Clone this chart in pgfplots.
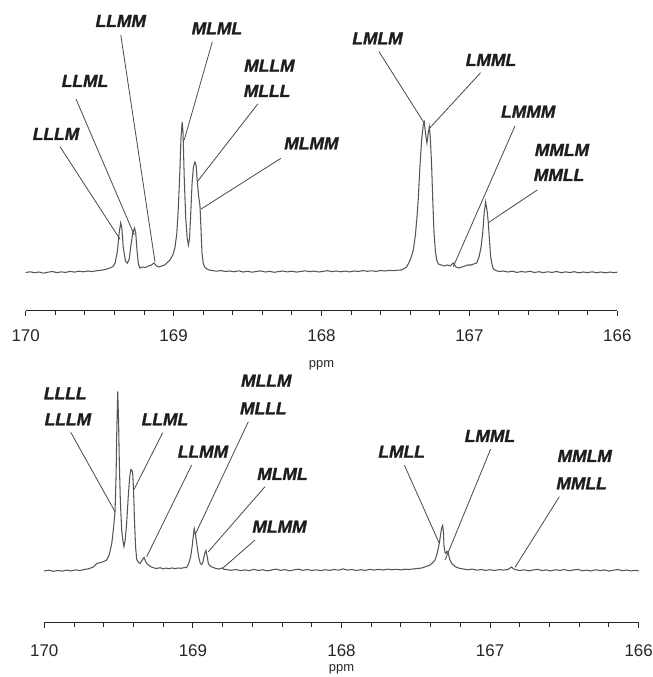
\documentclass[border=0pt]{standalone}
\usepackage{pgfplots}
\pgfplotsset{compat=1.18}
\usepackage{pgfplotstable}
\usepackage{fontspec}
\setmainfont{Liberation Sans}
\newfontfamily\lblfont{Liberation Sans}[BoldItalicFeatures={FakeBold=1.3}]
\definecolor{spec}{HTML}{555555}
\definecolor{lead}{HTML}{484848}
\definecolor{lab}{HTML}{1E1E1E}

\pgfplotstableread{
ppm h
170.00 0.5
169.97 1.2
169.94 0.3
169.91 1.0
169.88 -0.2
169.85 0.8
169.82 1.5
169.79 0.4
169.76 1.1
169.73 0.6
169.70 1.6
169.67 0.9
169.64 1.8
169.61 1.2
169.58 2.0
169.55 1.4
169.52 2.3
169.49 2.8
169.46 3.5
169.43 5.0
169.41 6.5
169.395 10
169.38 22
169.368 40
169.358 50
169.350 45
169.340 25
169.325 12
169.312 10
169.300 14
169.288 28
169.276 40
169.264 45
169.256 40
169.247 22
169.238 9
169.228 5
169.21 6
169.19 5.5
169.17 7
169.15 8
169.132 10
169.115 7
169.10 6
169.08 7
169.06 8
169.045 10
169.025 13
169.005 18
168.99 26
168.978 40
168.968 65
168.958 100
168.950 135
168.942 151
168.936 140
168.928 95
168.918 55
168.908 35
168.900 28
168.892 35
168.884 60
168.875 90
168.866 106
168.856 111
168.848 108
168.840 92
168.830 76
168.822 68
168.815 45
168.808 20
168.800 10
168.790 6
168.775 4
168.76 3
168.74 2.5
168.71 1.8
168.68 2.4
168.65 1.5
168.62 2.0
168.59 1.2
168.56 2.2
168.53 1.0
168.50 1.7
168.47 0.8
168.44 1.5
168.41 2.1
168.38 1.0
168.35 1.6
168.32 0.7
168.29 1.4
168.26 2.0
168.23 1.1
168.20 1.8
168.17 0.9
168.14 1.5
168.11 2.2
168.08 1.3
168.05 1.9
168.02 1.0
167.99 1.6
167.96 2.3
167.93 1.4
167.90 2.0
167.87 1.2
167.84 1.9
167.81 1.1
167.78 2.0
167.75 1.5
167.72 2.4
167.69 1.7
167.66 2.2
167.63 1.6
167.60 2.5
167.57 2.0
167.54 2.6
167.51 2.3
167.48 2.9
167.46 3
167.44 4.5
167.425 6
167.41 10
167.395 15
167.379 23
167.365 38
167.355 55
167.346 73
167.335 105
167.323 133
167.312 148
167.305 151
167.297 140
167.287 130
167.278 140
167.271 146
167.264 135
167.255 106
167.247 70
167.239 40
167.230 22
167.221 13
167.21 9
167.19 8
167.17 7
167.15 8
167.13 7
167.109 10
167.09 6
167.07 5
167.05 6
167.03 7
167.01 8
166.99 8
166.97 9
166.951 10
166.935 16
166.922 25
166.910 40
166.900 60
166.890 71
166.880 62
166.872 50
166.864 32
166.856 16
166.846 8
166.838 4
166.82 2.5
166.80 1.5
166.77 2.0
166.74 1.0
166.71 1.8
166.68 0.6
166.65 1.4
166.62 0.9
166.59 1.7
166.56 0.5
166.53 1.3
166.50 0.4
166.47 1.2
166.44 0.6
166.41 1.5
166.38 0.3
166.35 1.1
166.32 0.5
166.29 1.3
166.26 0.2
166.23 1.0
166.20 0.4
166.17 1.2
166.14 0.3
166.11 1.0
166.08 0.2
166.05 0.9
166.02 0.4
166.00 0.8
}\specA

\pgfplotstableread{
ppm h
170.00 0.5
169.97 1.3
169.94 0.2
169.91 1.0
169.88 0.4
169.85 1.4
169.82 0.6
169.79 1.6
169.76 1.0
169.73 2.0
169.70 2.8
169.67 4.5
169.647 8
169.62 9
169.60 10
169.580 11.5
169.565 16
169.555 22
169.546 28
169.535 42
169.524 60
169.517 95
169.512 141
169.506 180
169.500 150
169.495 108
169.488 70
169.479 41
169.470 30
169.464 25
169.455 32
169.445 50
169.435 75
169.425 95
169.417 102
169.410 101
169.405 98
169.399 80
169.394 55
169.386 25
169.378 12
169.366 9
169.356 8
169.343 11
169.329 14
169.315 9
169.300 6.5
169.28 4.5
169.26 3.5
169.244 3
169.22 3.8
169.20 2.6
169.18 3.4
169.16 2.8
169.14 3.6
169.12 2.9
169.10 3.5
169.08 3.2
169.06 3.8
169.042 4
169.028 8
169.015 15
169.005 25
168.997 36
168.991 43
168.984 38
168.974 28
168.962 15
168.950 8
168.941 7
168.933 9
168.925 15
168.918 19
168.912 21
168.905 16
168.896 8
168.880 5
168.863 4
168.845 3
168.825 2.5
168.806 3.5
168.79 2.2
168.77 1.8
168.74 1.2
168.71 2.0
168.68 0.9
168.65 1.6
168.62 0.8
168.59 2.2
168.56 1.0
168.53 1.8
168.50 0.6
168.47 1.5
168.44 2.4
168.41 1.1
168.38 1.9
168.35 0.7
168.32 1.6
168.29 2.3
168.26 1.2
168.23 2.0
168.20 1.0
168.17 1.7
168.14 0.8
168.11 1.8
168.08 1.1
168.05 2.0
168.02 1.3
167.99 2.6
167.96 1.4
167.93 2.0
167.90 1.0
167.87 1.8
167.84 1.1
167.81 2.1
167.78 1.4
167.75 2.2
167.72 1.5
167.69 2.4
167.66 1.7
167.63 2.2
167.60 1.6
167.57 2.3
167.55 2.0
167.52 2.5
167.49 3.0
167.46 3.5
167.43 5
167.404 6.5
167.385 9
167.371 11.5
167.358 17
167.342 28
167.332 38
167.325 44
167.319 46
167.314 40
167.310 25
167.303 19
167.297 18
167.291 20
167.285 20
167.278 16
167.270 11.5
167.259 8.5
167.248 6.5
167.23 4.5
167.203 3
167.18 2.5
167.15 1.8
167.12 2.4
167.09 1.3
167.06 2.0
167.03 1.1
167.00 1.8
166.97 1.0
166.94 1.9
166.91 1.4
166.88 2.0
166.865 3.5
166.855 4.5
166.845 3
166.83 1.8
166.80 1.0
166.77 1.7
166.74 0.7
166.71 1.5
166.68 2.2
166.65 0.9
166.62 1.6
166.59 0.6
166.56 1.8
166.53 1.0
166.50 2.0
166.47 0.8
166.44 1.5
166.41 2.1
166.38 0.7
166.35 1.4
166.32 0.5
166.29 1.8
166.26 0.9
166.23 1.6
166.20 0.4
166.17 1.3
166.14 2.0
166.11 0.8
166.08 1.5
166.05 0.6
166.02 1.2
166.00 0.5
}\specB

\pgfplotsset{
  nmr/.style={
    scale only axis,
    clip=false,
    x dir=reverse,
    xmin=166, xmax=170,
    axis x line=bottom,
    axis y line=none,
    x axis line style={-, line width=1.2bp, color=black!85},
    xtick={166,167,168,169,170},
    xticklabels={166,167,168,169,170},
    scaled x ticks=false,
    minor x tick num=4,
    tick align=outside,
    major tick length=5bp,
    minor tick length=4bp,
    tick style={line width=1bp, color=black!85},
    ytick=\empty,
    xticklabel style={font=\fontsize{17}{17}\selectfont, text=black!85},
    xlabel={ppm},
    xlabel style={font=\fontsize{13}{13}\selectfont, text=black!85, at={(axis description cs:0.5,0)}, anchor=center},
  },
}
\tikzset{
  lbl/.style={font=\fontsize{17.5}{17.5}\selectfont\lblfont\bfseries\itshape, text=lab, inner sep=0pt},
  ld/.style={draw=lead, line width=0.8bp},
}

\begin{document}
\begin{tikzpicture}
\useasboundingbox (0,0) rectangle (653bp,677bp);

% ---------- top spectrum ----------
\begin{axis}[nmr,
  at={(25.7bp,366.3bp)}, anchor=south west,
  width=591.6bp, height=310.7bp,
  ymin=-37.7, ymax=273,
  xticklabel style={yshift=-10bp},
  xlabel style={yshift=-55bp},
]
\addplot[spec, line width=1.05bp] table[x=ppm, y=h] {\specA};

\node[lbl] at (axis cs:169.357,252) {LLMM};
\node[lbl] at (axis cs:168.707,244.7) {MLML};
\node[lbl] at (axis cs:169.599,192) {LLML};
\node[lbl] at (axis cs:169.795,139) {LLLM};
\node[lbl] at (axis cs:168.352,207.3) {MLLM};
\node[lbl] at (axis cs:168.368,182) {MLLL};
\node[lbl] at (axis cs:168.068,129.7) {MLMM};
\node[lbl] at (axis cs:167.621,234.7) {LMLM};
\node[lbl] at (axis cs:166.854,213) {LMML};
\node[lbl] at (axis cs:166.602,161.3) {LMMM};
\node[lbl] at (axis cs:166.374,123) {MMLM};
\node[lbl] at (axis cs:166.394,98) {MMLL};

\draw[ld] (axis cs:169.357,238) -- (axis cs:169.126,11.3);
\draw[ld] (axis cs:168.738,231.3) -- (axis cs:168.928,133);
\draw[ld] (axis cs:169.660,174) -- (axis cs:169.266,38);
\draw[ld] (axis cs:169.768,126.3) -- (axis cs:169.362,33.7);
\draw[ld] (axis cs:168.431,169) -- (axis cs:168.840,91.3);
\draw[ld] (axis cs:168.274,114.7) -- (axis cs:168.817,63.7);
\draw[ld] (axis cs:167.611,221.3) -- (axis cs:167.307,150.3);
\draw[ld] (axis cs:166.924,200.3) -- (axis cs:167.266,145.3);
\draw[ld] (axis cs:166.692,147) -- (axis cs:167.109,6.3);
\draw[ld] (axis cs:166.541,83) -- (axis cs:166.872,50.3);
\end{axis}

% ---------- bottom spectrum ----------
\begin{axis}[nmr,
  at={(44.3bp,54.3bp)}, anchor=south west,
  width=594.4bp, height=257.7bp,
  ymin=-51.2, ymax=206.5,
  xticklabel style={yshift=-13bp},
  xlabel style={yshift=-47bp},
]
\addplot[spec, line width=1.05bp] table[x=ppm, y=h] {\specB};

\node[lbl] at (axis cs:169.859,178.2) {LLLL};
\node[lbl] at (axis cs:169.841,152.2) {LLLM};
\node[lbl] at (axis cs:169.188,152.2) {LLML};
\node[lbl] at (axis cs:168.932,119.8) {LLMM};
\node[lbl] at (axis cs:168.506,190.8) {MLLM};
\node[lbl] at (axis cs:168.526,163.2) {MLLL};
\node[lbl] at (axis cs:168.397,97.5) {MLML};
\node[lbl] at (axis cs:168.417,44.8) {MLMM};
\node[lbl] at (axis cs:167.595,119.8) {LMLL};
\node[lbl] at (axis cs:167.001,135.5) {LMML};
\node[lbl] at (axis cs:166.363,115.5) {MMLM};
\node[lbl] at (axis cs:166.384,88.2) {MMLL};

\draw[ld] (axis cs:169.822,139.2) -- (axis cs:169.524,59.8);
\draw[ld] (axis cs:169.203,138.8) -- (axis cs:169.396,82.2);
\draw[ld] (axis cs:169.008,106.5) -- (axis cs:169.311,14.8);
\draw[ld] (axis cs:168.627,149.8) -- (axis cs:168.986,36.5);
\draw[ld] (axis cs:168.515,84.8) -- (axis cs:168.896,19.8);
\draw[ld] (axis cs:168.582,31.5) -- (axis cs:168.800,3.2);
\draw[ld] (axis cs:167.577,106.5) -- (axis cs:167.342,28.2);
\draw[ld] (axis cs:166.996,122.5) -- (axis cs:167.303,11.5);
\draw[ld] (axis cs:166.534,74.8) -- (axis cs:166.832,4.2);
\end{axis}
\end{tikzpicture}
\end{document}
